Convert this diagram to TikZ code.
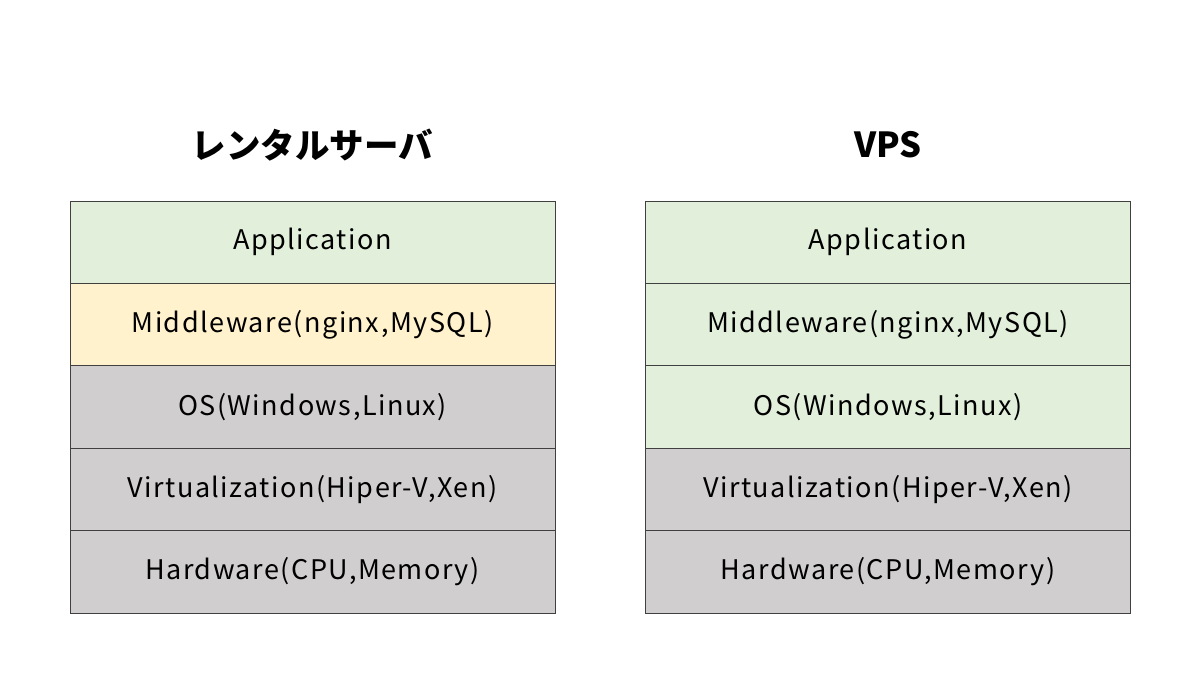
\documentclass[tikz,border=0pt]{standalone}
\usepackage{fontspec}
\setmainfont{Noto Sans CJK JP}
\usetikzlibrary{%
  positioning
}
\definecolor{appgreen}{HTML}{E2EFDA}
\definecolor{midyellow}{HTML}{FFF2CC}
\definecolor{hwgray}{HTML}{D0CECE}
\definecolor{edgegray}{HTML}{404040}
\tikzstyle{layer}=[draw=edgegray,line width=1pt,minimum width=485pt,minimum height=82.4pt,outer sep=0pt,inner sep=0pt,font=\fontsize{27}{32}\selectfont\addfontfeatures{LetterSpace=5.5}]
\tikzstyle{title}=[font=\fontsize{34.5}{40}\bfseries\selectfont]
\tikzstyle{green}=[layer,fill=appgreen]
\tikzstyle{yellow}=[layer,fill=midyellow]
\tikzstyle{gray}=[layer,fill=hwgray]

\begin{document}
\begin{tikzpicture}[x=1pt,y=-1pt,node distance=0pt]
  \useasboundingbox (0,0) rectangle (1200,675);
  % rental server
  \node[title] (rental) at (312.5,145) {レンタルサーバ};
  \node[green,anchor=north] (r_app) at (312.5,201) {Application};
  \node[yellow,below=of r_app] (r_mid) {Middleware(nginx,MySQL)};
  \node[gray,below=of r_mid] (r_os) {OS(Windows,Linux)};
  \node[gray,below=of r_os] (r_virt) {Virtualization(Hiper-V,Xen)};
  \node[gray,below=of r_virt] (r_hw) {Hardware(CPU,Memory)};
  % vps
  \node[title] (vps) at (888,145) {VPS};
  \node[green,anchor=north] (v_app) at (888,201) {Application};
  \node[green,below=of v_app] (v_mid) {Middleware(nginx,MySQL)};
  \node[green,below=of v_mid] (v_os) {OS(Windows,Linux)};
  \node[gray,below=of v_os] (v_virt) {Virtualization(Hiper-V,Xen)};
  \node[gray,below=of v_virt] (v_hw) {Hardware(CPU,Memory)};
\end{tikzpicture}
\end{document}
